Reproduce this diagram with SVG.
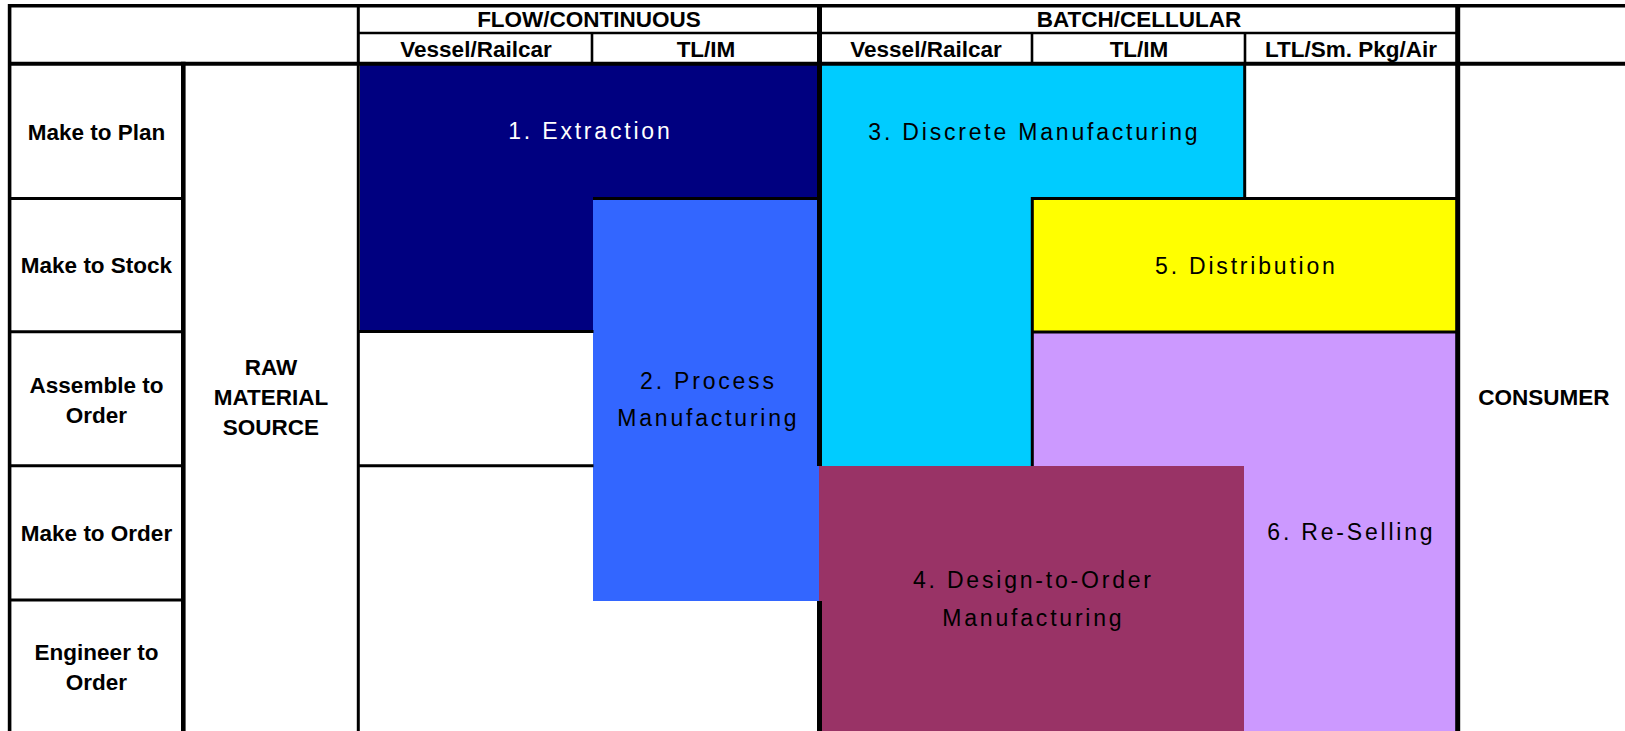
<svg xmlns="http://www.w3.org/2000/svg" width="1625" height="731" viewBox="0 0 1625 731">
<style>
.hdr{font-family:"Liberation Sans",Arial,sans-serif;font-weight:bold;font-size:22.5px;text-anchor:middle;fill:#000}
.lbl{font-family:"Liberation Sans",Arial,sans-serif;font-size:23px;letter-spacing:2.8px;text-anchor:middle;fill:#000}
.ln{stroke:#000;fill:none}
</style>
<rect x="0" y="0" width="1625" height="731" fill="#fff"/>

<g id="region-1-extraction">
<path d="M360,65 H818 V199 H593 V332 H360 Z" fill="#000080"/>
<text class="lbl" x="590.4" y="139" style="fill:#fff">1. Extraction</text>
</g>
<g id="region-2-process">
<rect x="593" y="199" width="226" height="402" fill="#3366FF"/>
<text class="lbl" x="708.4" y="389">2. Process</text>
<text class="lbl" x="708.4" y="425.5">Manufacturing</text>
</g>
<g id="region-3-discrete">
<path d="M822,65 H1244 V199 H1032 V466 H822 Z" fill="#00CCFF"/>
<text class="lbl" x="1034.4" y="139.5">3. Discrete Manufacturing</text>
</g>
<g id="region-5-distribution">
<rect x="1032" y="199" width="425" height="133" fill="#FFFF00"/>
<text class="lbl" x="1246.4" y="273.5">5. Distribution</text>
</g>
<g id="region-6-reselling">
<path d="M1032,332 H1457 V731 H1244 V466 H1032 Z" fill="#CC99FF"/>
<text class="lbl" x="1351.4" y="540">6. Re-Selling</text>
</g>
<g id="region-4-design">
<rect x="819" y="466" width="425" height="265" fill="#993366"/>
<text class="lbl" x="1033.4" y="587.5">4. Design-to-Order</text>
<text class="lbl" x="1033.4" y="625.5">Manufacturing</text>
</g>

<g id="grid">
<line class="ln" x1="8" y1="5.7" x2="1625" y2="5.7" stroke-width="3.4"/>
<line class="ln" x1="9.6" y1="4" x2="9.6" y2="731" stroke-width="3.6"/>
<line class="ln" x1="358" y1="33" x2="1458" y2="33" stroke-width="2.6"/>
<line class="ln" x1="9.6" y1="63.7" x2="1625" y2="63.7" stroke-width="4"/>
<line class="ln" x1="183.3" y1="61.7" x2="183.3" y2="731" stroke-width="4.6"/>
<line class="ln" x1="358.3" y1="4" x2="358.3" y2="731" stroke-width="3"/>
<line class="ln" x1="592" y1="33" x2="592" y2="64" stroke-width="2.6"/>
<line class="ln" x1="1032" y1="33" x2="1032" y2="64" stroke-width="2.6"/>
<line class="ln" x1="1245" y1="33" x2="1245" y2="64" stroke-width="2.6"/>
<line class="ln" x1="819.5" y1="4" x2="819.5" y2="466" stroke-width="5"/>
<line class="ln" x1="819.5" y1="601" x2="819.5" y2="731" stroke-width="5"/>
<line class="ln" x1="1457.7" y1="4" x2="1457.7" y2="731" stroke-width="5"/>
<line class="ln" x1="9.6" y1="198.6" x2="183.3" y2="198.6" stroke-width="3"/>
<line class="ln" x1="9.6" y1="331.7" x2="183.3" y2="331.7" stroke-width="3"/>
<line class="ln" x1="9.6" y1="465.7" x2="183.3" y2="465.7" stroke-width="3"/>
<line class="ln" x1="9.6" y1="600" x2="183.3" y2="600" stroke-width="3"/>
<line class="ln" x1="593" y1="198.6" x2="819.5" y2="198.6" stroke-width="3"/>
<line class="ln" x1="358.3" y1="331.5" x2="593.5" y2="331.5" stroke-width="3"/>
<line class="ln" x1="358.3" y1="465.8" x2="593.5" y2="465.8" stroke-width="3"/>
<line class="ln" x1="1244.7" y1="63.7" x2="1244.7" y2="198.6" stroke-width="3"/>
<line class="ln" x1="1031" y1="198.6" x2="1457.7" y2="198.6" stroke-width="3"/>
<line class="ln" x1="1032.3" y1="197" x2="1032.3" y2="466" stroke-width="3"/>
<line class="ln" x1="1032.3" y1="332" x2="1457.7" y2="332" stroke-width="2.8"/>
</g>

<g id="header-flow"><text class="hdr" x="589" y="27">FLOW/CONTINUOUS</text></g>
<g id="header-batch"><text class="hdr" x="1139" y="27">BATCH/CELLULAR</text></g>
<g id="sub-flow-vessel"><text class="hdr" x="476" y="57">Vessel/Railcar</text></g>
<g id="sub-flow-tlim"><text class="hdr" x="706" y="57">TL/IM</text></g>
<g id="sub-batch-vessel"><text class="hdr" x="926" y="57">Vessel/Railcar</text></g>
<g id="sub-batch-tlim"><text class="hdr" x="1139" y="57">TL/IM</text></g>
<g id="sub-batch-ltl"><text class="hdr" x="1351" y="57">LTL/Sm. Pkg/Air</text></g>

<g id="row-make-to-plan"><text class="hdr" x="96.5" y="139.5">Make to Plan</text></g>
<g id="row-make-to-stock"><text class="hdr" x="96.5" y="273">Make to Stock</text></g>
<g id="row-assemble-to-order"><text class="hdr" x="96.5" y="393">Assemble to</text><text class="hdr" x="96.5" y="423">Order</text></g>
<g id="row-make-to-order"><text class="hdr" x="96.5" y="540.5">Make to Order</text></g>
<g id="row-engineer-to-order"><text class="hdr" x="96.5" y="660">Engineer to</text><text class="hdr" x="96.5" y="690">Order</text></g>

<g id="raw-material-source"><text class="hdr" x="271" y="375">RAW</text><text class="hdr" x="271" y="405">MATERIAL</text><text class="hdr" x="271" y="435">SOURCE</text></g>
<g id="consumer"><text class="hdr" x="1544" y="405">CONSUMER</text></g>
</svg>
